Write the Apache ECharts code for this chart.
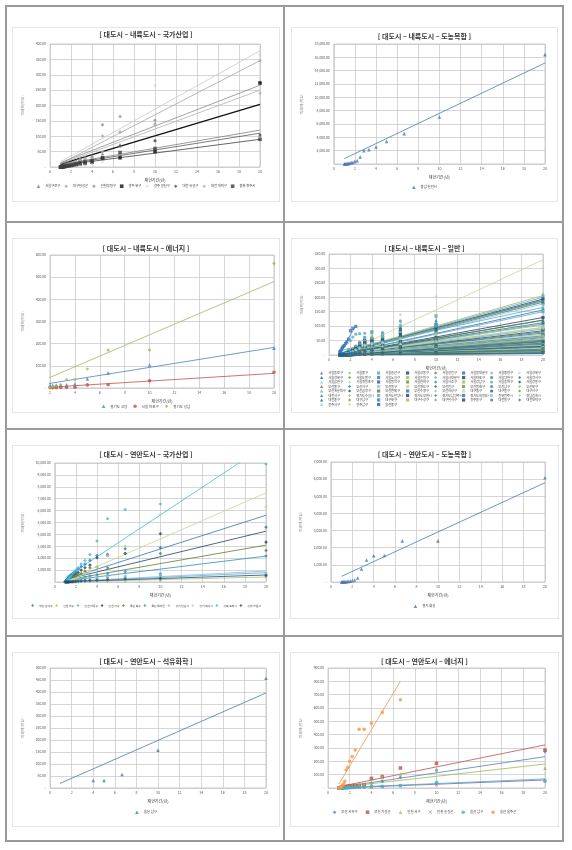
<!DOCTYPE html>
<html><head><meta charset="utf-8">
<script src="https://cdn.jsdelivr.net/npm/echarts@6/dist/echarts.min.js"></script>
<style>
body{margin:0;background:#fff;width:572px;height:850px;position:relative;overflow:hidden}
.hl{position:absolute;background:#9a9a9a}
.box{position:absolute;border:1px solid #e6e6e6;box-sizing:border-box;background:#fff}
</style></head><body>
<div class="hl" style="left:5px;top:5px;width:559px;height:2px"></div>
<div class="hl" style="left:5px;top:221px;width:559px;height:2px"></div>
<div class="hl" style="left:5px;top:428px;width:559px;height:2px"></div>
<div class="hl" style="left:5px;top:635px;width:559px;height:2px"></div>
<div class="hl" style="left:5px;top:840px;width:559px;height:2px"></div>
<div class="hl" style="left:5px;top:5px;width:2px;height:837px"></div>
<div class="hl" style="left:283px;top:5px;width:2px;height:837px"></div>
<div class="hl" style="left:562px;top:5px;width:2px;height:837px"></div>

<div id="c1" class="box" style="left:12px;top:27px;width:268px;height:175px"></div>
<div id="c2" class="box" style="left:291px;top:27px;width:267px;height:175px"></div>
<div id="c3" class="box" style="left:12px;top:238px;width:268px;height:175px"></div>
<div id="c4" class="box" style="left:291px;top:238px;width:267px;height:175px"></div>
<div id="c5" class="box" style="left:12px;top:445px;width:268px;height:174px"></div>
<div id="c6" class="box" style="left:290px;top:445px;width:269px;height:174px"></div>
<div id="c7" class="box" style="left:12px;top:652px;width:268px;height:175px"></div>
<div id="c8" class="box" style="left:290px;top:652px;width:269px;height:175px"></div>
<script>
// ---- shared x values: return periods (재현기간, 년)
const T = [20,10,6.67,5,4,3.33,2.86,2.5,2.22,2,1.82,1.67,1.54,1.43,1.33,1.25,1.18,1.11,1.05,1];

// ---- Panel 1: 대도시 – 내륙도시 – 국가산업
const names1 = ['서울구로구','대구달성군','인천부평구','광주 북구','광주 광산구','대전 유성구','대전 대덕구','충북 청주시'];
const values1 = [
 [104,87,72,43,36,30,25,20,15,12,10,8,6,5,4,3,2,1,1,0],
 [346,141,114,101,25,22,18,15,12,10,8,6,5,4,3,2,2,1,1,0],
 [275,152,164,137,36,30,24,18,14,11,9,7,6,5,4,3,2,1,1,0],
 [273,50,30,28,16,12,10,8,6,5,4,3,3,2,2,1,1,1,0,0],
 [365,264,47,17,9,8,7,6,5,4,3,3,2,2,1,1,1,0,0,0],
 [104,85,68,28,25,22,20,16,13,10,8,6,5,4,3,2,2,1,1,0],
 [240,137,114,50,30,26,22,17,13,10,8,6,5,4,3,2,1,1,0,0],
 [90,60,47,30,20,16,13,10,8,6,5,4,3,2,2,1,1,0,0,0]
];
const trend1 = [[8,120],[11,346],[14,266],[9,204],[17,378],[6,110],[10,250],[5,90]];

// ---- Panel 2: 대도시 – 내륙도시 – 도농복합
const names2 = ['충남 천안시'];
const values2 = [[16400,7050,4550,3400,2550,2150,2000,1050,500,400,250,200,150,100,60,40,20,10,5,0]];
const trend2 = [[800,15150]];

// ---- Panel 3: 대도시 – 내륙도시 – 에너지
const names3 = ['경기도 고양','서울 마포구','경기도 성남'];
const values3 = [
 [180,104,68,41,18,15,14,13,12,11,9,8,6,5,4,3,2,1,1,0],
 [71,33,15,14,3,2,2,1,1,1,1,0,0,0,0,0,0,0,0,0],
 [562,171,171,86,38,38,15,10,5,3,2,2,1,1,1,0,0,0,0,0]
];
const trend3 = [[12,183],[0,66],[24,480]];

// ---- Panel 4: 대도시 – 내륙도시 – 일반
const names4 = ['서울종로구','서울중구','서울용산구','서울성동구','서울광진구','서울동대문구','서울중랑구','서울성북구',
 '서울강북구','서울도봉구','서울노원구','서울은평구','서울서대문구','서울마포구','서울양천구','서울강서구',
 '서울금천구','서울영등포구','서울동작구','서울관악구','서울서초구','서울강남구','서울송파구','서울강동구',
 '부산중구','부산서구','부산동구','부산영도구','부산진구','부산동래구','부산남구','부산북구',
 '부산해운대구','부산금정구','부산연제구','부산수영구','부산사상구','대구중구','대구동구','대구서구',
 '대전서구','경기도수원시','경기도안양시','경기도부천시','경기도남양주시','경기도의정부시','전북전주시','경남김해시',
 '대전중구','대구남구','대구북구','대구수성구','대구달서구','광주동구','대전동구','대전대덕구',
 '광주서구','광주남구','울산중구'];
const values4 = [
 [161,88,70,48,44,38,26,19,13,9,7,5,4,3,2,1,1,1,0,0],
 [211,110,115,78,70,62,45,32,22,15,11,8,6,5,4,3,2,1,1,0],
 [203,136,100,70,81,60,42,30,20,14,10,8,6,5,3,2,2,1,0,0],
 [194,105,88,62,58,50,38,26,18,12,9,7,5,4,3,2,1,1,0,0],
 [188,98,92,55,50,44,32,24,16,10,8,6,5,4,3,2,1,1,0,0],
 [180,95,80,58,52,46,30,22,15,10,8,6,4,3,2,2,1,1,0,0],
 [170,92,75,50,46,40,28,20,14,9,7,5,4,3,2,2,1,1,0,0],
 [300,202,140,64,55,48,36,26,18,12,9,7,5,4,3,2,2,1,1,0],
 [118,80,60,45,40,34,25,18,12,8,6,5,4,3,2,1,1,0,0,0],
 [107,72,56,42,38,32,24,17,11,8,6,5,4,3,2,1,1,0,0,0],
 [null,null,null,null,null,null,null,99,92,84,55,45,40,33,30,26,20,15,12,10],
 [95,65,50,38,34,29,21,15,10,7,5,4,3,2,2,1,1,0,0,0],
 [90,62,48,36,32,27,20,14,9,6,5,4,3,2,1,1,1,0,0,0],
 [87,60,46,35,31,26,19,13,9,6,5,4,3,2,1,1,0,0,0,0],
 [84,58,44,34,30,25,18,13,8,6,4,3,2,2,1,1,0,0,0,0],
 [80,56,42,32,29,24,17,12,8,5,4,3,2,2,1,1,0,0,0,0],
 [78,54,40,31,28,23,16,12,8,5,4,3,2,1,1,1,0,0,0,0],
 [75,52,38,30,27,22,16,11,7,5,4,3,2,1,1,0,0,0,0,0],
 [72,50,37,29,26,21,15,11,7,5,3,3,2,1,1,0,0,0,0,0],
 [69,48,36,28,25,20,15,10,7,4,3,2,2,1,1,0,0,0,0,0],
 [66,46,35,27,24,20,14,10,6,4,3,2,2,1,1,0,0,0,0,0],
 [63,44,34,26,23,19,13,9,6,4,3,2,1,1,0,0,0,0,0,0],
 [160,110,118,78,78,75,74,72,62,50,20,12,8,5,3,2,1,1,0,0],
 [60,42,32,25,22,18,13,9,6,4,3,2,1,1,0,0,0,0,0,0],
 [57,40,30,24,21,17,12,8,5,4,3,2,1,1,0,0,0,0,0,0],
 [54,38,29,23,20,16,12,8,5,3,2,2,1,1,0,0,0,0,0,0],
 [51,36,28,22,19,15,11,8,5,3,2,2,1,0,0,0,0,0,0,0],
 [49,34,27,21,18,14,11,7,5,3,2,1,1,0,0,0,0,0,0,0],
 [46,32,26,20,17,14,10,7,4,3,2,1,1,0,0,0,0,0,0,0],
 [44,30,25,19,16,13,10,7,4,3,2,1,1,0,0,0,0,0,0,0],
 [41,28,24,18,15,12,9,6,4,3,2,1,1,0,0,0,0,0,0,0],
 [38,27,22,17,14,12,9,6,4,2,2,1,0,0,0,0,0,0,0,0],
 [36,25,21,16,13,11,8,6,4,2,2,1,0,0,0,0,0,0,0,0],
 [34,24,20,15,12,10,8,5,3,2,1,1,0,0,0,0,0,0,0,0],
 [31,22,18,14,12,10,7,5,3,2,1,1,0,0,0,0,0,0,0,0],
 [29,20,17,13,11,9,7,5,3,2,1,1,0,0,0,0,0,0,0,0],
 [27,19,16,12,10,8,6,4,3,2,1,1,0,0,0,0,0,0,0,0],
 [25,18,15,11,9,8,6,4,3,2,1,0,0,0,0,0,0,0,0,0],
 [23,16,14,10,9,7,5,4,2,2,1,0,0,0,0,0,0,0,0,0],
 [21,15,13,9,8,7,5,3,2,1,1,0,0,0,0,0,0,0,0,0],
 [185,120,95,60,58,52,40,28,20,14,10,8,6,4,3,2,1,1,0,0],
 [175,130,105,65,60,50,38,27,19,13,9,7,5,4,3,2,1,1,0,0],
 [150,100,78,58,52,45,34,24,16,11,8,6,5,4,3,2,1,1,0,0],
 [130,90,70,52,48,42,30,22,15,10,8,6,4,3,2,1,1,0,0,0],
 [120,85,65,50,45,40,28,20,14,9,7,5,4,3,2,1,1,0,0,0],
 [110,78,60,46,42,36,26,18,12,8,6,5,4,3,2,1,1,0,0,0],
 [100,75,58,44,40,34,25,18,12,8,6,5,3,2,2,1,1,0,0,0],
 [92,70,55,42,38,32,23,16,11,7,5,4,3,2,1,1,0,0,0,0],
 [19,14,12,9,7,6,4,3,2,1,1,0,0,0,0,0,0,0,0,0],
 [17,12,11,8,7,5,4,3,2,1,1,0,0,0,0,0,0,0,0,0],
 [15,11,10,7,6,5,4,3,2,1,0,0,0,0,0,0,0,0,0,0],
 [13,10,9,6,5,4,3,2,1,1,0,0,0,0,0,0,0,0,0,0],
 [12,9,8,6,5,4,3,2,1,1,0,0,0,0,0,0,0,0,0,0],
 [10,8,7,5,4,3,2,2,1,0,0,0,0,0,0,0,0,0,0,0],
 [8,6,5,4,3,3,2,1,1,0,0,0,0,0,0,0,0,0,0,0],
 [6,5,4,3,3,2,2,1,0,0,0,0,0,0,0,0,0,0,0,0],
 [68,50,40,30,27,22,16,11,8,5,4,3,2,1,1,0,0,0,0,0],
 [58,44,35,27,24,20,14,10,7,5,3,2,2,1,1,0,0,0,0,0],
 [48,36,29,22,20,16,12,8,6,4,3,2,1,1,0,0,0,0,0,0]
];
const trend4 = [[2,156],[6,206],[5,200],[4,194],[4,188],[3,183],[3,177],[0,330],[2,121],[2,107],
 [8,101],[2,95],[2,90],[1,84],[1,80],[1,76],[1,72],[1,70],[1,66],[1,63],
 [1,60],[1,57],[15,165],[1,54],[1,51],[1,48],[1,45],[0,43],[0,41],[0,39],
 [0,37],[0,34],[0,32],[0,30],[0,28],[0,26],[0,24],[0,22],[0,20],[0,18],
 [3,190],[4,186],[2,150],[2,130],[2,120],[2,112],[1,104],[1,96],[0,16],[0,14],
 [0,12],[0,10],[0,9],[0,7],[0,6],[0,5],[1,64],[1,55],[0,46]];

// ---- Panel 5: 대도시 – 연안도시 – 국가산업
const names5 = ['부산 강서구','인천 남구','인천 남동구','인천 서구','울산 북구','울산 울주군','경기 안산시','경기 화성시','경북 포항시','경남 창원시'];
const values5 = [
 [4610,2880,2790,2320,2230,1820,1500,1300,1100,900,800,700,600,500,400,300,200,150,100,50],
 [420,100,80,60,50,40,30,20,15,10,8,6,4,3,2,1,1,0,0,0],
 [620,560,420,380,300,250,200,150,120,100,80,60,50,40,30,20,10,5,0,0],
 [3350,4050,2400,2230,2040,1420,1200,1000,800,700,600,500,400,300,250,200,150,100,50,20],
 [2650,2400,2400,1200,1260,1200,900,700,600,500,400,300,250,200,150,100,80,50,20,10],
 [2180,700,870,700,600,500,400,300,250,200,150,120,100,80,60,40,30,20,10,0],
 [700,700,500,450,400,350,300,250,200,150,120,100,80,60,40,30,20,10,5,0],
 [6310,5670,3020,2230,1260,900,700,500,400,300,250,200,150,100,80,60,40,20,10,0],
 [9920,6560,6090,5310,3440,2300,1800,1500,1200,1000,800,650,500,400,300,200,150,100,50,20],
 [550,300,250,200,150,120,100,80,60,50,40,30,20,15,10,5,3,2,1,0]
];
const trend5 = [[220,5610],[10,420],[30,780],[200,4270],[150,3100],[100,2180],[40,920],[140,7490],[360,11500],[20,590]];

// ---- Panel 6: 대도시 – 연안도시 – 도농복합
const names6 = ['경기 화성'];
const values6 = [[6085,2400,2400,1550,1530,1280,755,230,115,80,50,35,25,15,10,8,5,3,1,0]];
const trend6 = [[330,5790]];

// ---- Panel 7: 대도시 – 연안도시 – 석유화학
const names7 = ['울산 남구'];
const values7 = [[457,158,56,31,31]];
const trend7 = [[0.92,19,20,396]];

// ---- Panel 8: 대도시 – 연안도시 – 에너지
const names8 = ['부산 사하구','부산 기장군','인천 서구','인천 옹진군','울산 남구','울산 울주군'];
const values8 = [
 [273,135,80,50,35,25,20,15,12,10,8,6,5,4,3,2,1,1,0,0],
 [285,185,150,85,72,25,20,18,16,14,12,10,8,6,5,4,3,2,1,0],
 [148,135,105,80,40,30,25,20,15,12,10,8,6,5,4,3,2,1,1,0],
 [60,25,15,10,8,6,5,4,3,2,2,1,1,1,0,0,0,0,0,0],
 [50,43,18,12,10,8,6,5,4,3,2,2,1,1,1,0,0,0,0,0],
 [null,null,662,567,485,440,440,285,235,200,155,135,50,30,20,10,5,3,1,0]
];
const trend8 = [[5,235],[10,323],[5,180],[0,60],[2,68],[30,800]];

// ---------------- rendering helpers ----------------
const FONT = '"Noto Sans CJK KR","Noto Sans",sans-serif';
const SYM = {
  tri:'triangle', dia:'diamond', sq:'rect', cir:'circle',
  x:'path://M0,1L1,0L5,4L9,0L10,1L6,5L10,9L9,10L5,6L1,10L0,9L4,5Z',
  plus:'path://M4,0H6V4H10V6H6V10H4V6H0V4H4Z',
  dash:'path://M0,4H10V6H0Z'
};
function fmtY(v){ return v===0 ? '-' : v.toLocaleString('en-US',{minimumFractionDigits:2,maximumFractionDigits:2}); }

function build(c){
  const chart = echarts.init(document.getElementById(c.id), null, {renderer:'canvas'});
  const scat = [], lines = [];
  c.names.forEach((n,i)=>{
    const col = c.colors[i % c.colors.length];
    const pts = [];
    c.values[i].forEach((v,k)=>{ if(v!=null) pts.push([T[k], v]); });
    const xs = pts.map(p=>p[0]);
    const x0 = Math.min(...xs), x1 = Math.max(...xs);
    scat.push({type:'scatter', name:n, data:pts, symbol:c.symbols[i % c.symbols.length],
      symbolSize:c.symSize||3.6, itemStyle:{color:col}, clip:true, z:3, animation:false, silent:true});
    const tr = c.trends[i];
    const seg = tr.length===4 ? [[tr[0],tr[1]],[tr[2],tr[3]]] : [[x0,tr[0]],[x1,tr[1]]];
    lines.push({type:'line', name:n, data:seg, symbol:'none', showSymbol:false,
      clip:true, lineStyle:{color:col, width:(c.lineW && c.lineW[i]) || 0.8}, z:2, animation:false, silent:true});
  });
  const legends = c.legends || [{
    bottom:c.legendBottom, left:'center', width:c.legendWidth||260, itemWidth:c.legIcon||3.6, itemHeight:c.legIcon||3.6, itemGap:c.legendGap||5,
    data:c.names.map((n,i)=>({name:n, icon:c.symbols[i % c.symbols.length]})),
    textStyle:{fontSize:c.legendFont||3.4, color:'#404040', fontFamily:FONT}, padding:0
  }];
  chart.setOption({
    animation:false,
    title:{text:c.title, left:'center', top:c.titleTop, padding:0, textStyle:{fontSize:7, fontWeight:'bold', color:'#3a3a3a', fontFamily:FONT}},
    grid:{left:c.grid[0], top:c.grid[1], width:c.grid[2], height:c.grid[3], show:true, borderColor:'#bfbfbf', borderWidth:0.8},
    legend:legends,
    xAxis:{type:'value', min:c.xMin||0, max:20, interval:2,
      name:'재현기간(년)', nameLocation:'middle', nameGap:8,
      nameTextStyle:{fontSize:4, color:'#404040', fontFamily:FONT},
      axisLine:{show:false}, axisTick:{show:false},
      axisLabel:{fontSize:3.6, color:'#595959', margin:3, fontFamily:FONT},
      splitLine:{show:true, lineStyle:{color:'#c4c4c4', width:0.7}}},
    yAxis:{type:'value', min:0, max:c.yMax, interval:c.yStep,
      name:'피해액(억원)', nameLocation:'middle', nameGap:c.yNameGap||19, nameRotate:90,
      nameTextStyle:{fontSize:3.8, color:'#7f7f7f', fontFamily:FONT},
      axisLine:{show:false}, axisTick:{show:false},
      axisLabel:{fontSize:3.4, color:'#595959', margin:4, formatter:fmtY, fontFamily:FONT},
      splitLine:{show:true, lineStyle:{color:'#c4c4c4', width:0.7}}},
    series:scat.concat(lines)
  });
}

const grey = ['#7f7f7f','#a6a6a6','#8c8c8c','#111111','#c8c8c8','#595959','#b0b0b0','#3f3f3f'];
const office = ['#4f81bd','#c0504d','#9bbb59','#7d60a0','#4bacc6','#f79646'];
const bg = ['#2e75b6','#a9c46c','#5bb0cf','#1f3f6e','#5e7f2a','#2f8fb5','#8fb8dd','#c3d69b','#3fbcd6','#23487f'];
const bg4 = ['#3a75b8','#9dbb5e','#56a9cb','#1f3f6b','#5e7f2f','#2c6fae','#8cc0dc','#c3d69b','#24618f','#6c9a3c'];

build({id:'c1', title:'[ 대도시 – 내륙도시 – 국가산업 ]', titleTop:2.5, grid:[36,16,211,123],
  names:names1, values:values1, trends:trend1, colors:grey,
  symbols:[SYM.tri,SYM.dia,SYM.dia,SYM.sq,SYM.x,SYM.dia,SYM.dia,SYM.sq],
  lineW:[0.8,0.8,0.8,1.3,0.8,0.8,0.8,0.8],
  yMax:400, yStep:50, yNameGap:18, legendBottom:13, legendGap:4, legendFont:3.3});

build({id:'c2', title:'[ 대도시 – 내륙도시 – 도농복합 ]', titleTop:4.5, grid:[36,16,217,120],
  names:names2, values:values2, trends:trend2, colors:['#4a78b5'], symbols:[SYM.tri],
  yMax:18000, yStep:2000, yNameGap:21, legendBottom:12});

build({id:'c3', title:'[ 대도시 – 내륙도시 – 에너지 ]', titleTop:5.5, grid:[36,16,225,133],
  names:names3, values:values3, trends:trend3, colors:office.slice(0,3), symbols:[SYM.tri,SYM.cir,SYM.dia],
  xMin:2, yMax:600, yStep:100, yNameGap:20, legendBottom:4, legendGap:6, legendFont:3.5});

// panel 4 legend: 8 columns
const cols4 = [28,56,85,114,142,170,198,226];
const sym4 = [SYM.tri,SYM.dia,SYM.sq,SYM.sq,SYM.dia,SYM.sq,SYM.cir,SYM.dia];
const leg4 = cols4.map((lx,j)=>({
  orient:'vertical', left:lx, top:132, itemWidth:3.2, itemHeight:3.2, itemGap:0.5, padding:0,
  data:names4.map((n,i)=>({name:n, icon:sym4[i%8], i:i})).filter(d=>d.i%8===j).map(d=>({name:d.name, icon:d.icon})),
  textStyle:{fontSize:3.2, lineHeight:4, color:'#404040', fontFamily:FONT}
}));
build({id:'c4', title:'[ 대도시 – 내륙도시 – 일반 ]', titleTop:5.5, grid:[35,15,216,101],
  names:names4, values:values4, trends:trend4, colors:bg4, symbols:sym4, symSize:3.2,
  yMax:350, yStep:50, yNameGap:20, legends:leg4});

build({id:'c5', title:'[ 대도시 – 연안도시 – 국가산업 ]', titleTop:4.5, grid:[36,17,217,119],
  names:names5, values:values5, trends:trend5, colors:bg, symbols:[SYM.dia],
  yMax:10000, yStep:1000, yNameGap:21, legendBottom:11, legendGap:2.5, legendFont:2.8, legIcon:3, legendWidth:266});

build({id:'c6', title:'[ 대도시 – 연안도시 – 도농복합 ]', titleTop:4.5, grid:[37,16,217,120],
  names:names6, values:values6, trends:trend6, colors:['#4a78b5'], symbols:[SYM.tri],
  yMax:7000, yStep:1000, yNameGap:20, legendBottom:10});

build({id:'c7', title:'[ 대도시 – 연안도시 – 석유화학 ]', titleTop:4.5, grid:[36,15,217,120],
  names:names7, values:values7, trends:trend7, colors:['#4a78b5'], symbols:[SYM.tri],
  yMax:500, yStep:50, yNameGap:18, legendBottom:12});

build({id:'c8', title:'[ 대도시 – 연안도시 – 에너지 ]', titleTop:4.5, grid:[37,15,217,120],
  names:names8, values:values8, trends:trend8, colors:office, symbols:[SYM.dia,SYM.sq,SYM.tri,SYM.x,SYM.cir,SYM.cir],
  yMax:900, yStep:100, yNameGap:20, legendBottom:12, legendGap:8, legendFont:3.4});
</script>
</body></html>
